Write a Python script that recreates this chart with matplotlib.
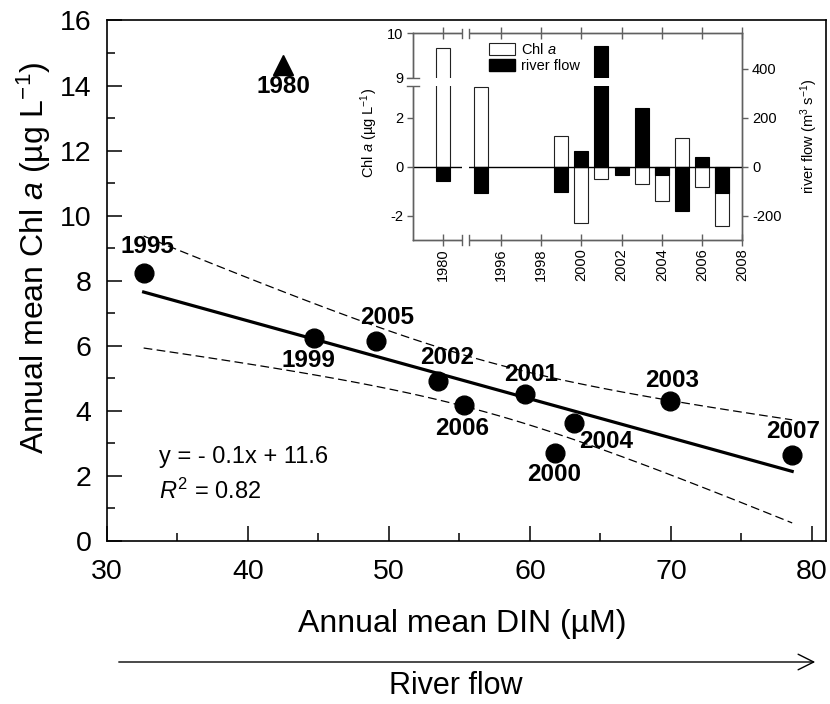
import numpy as np
import matplotlib
matplotlib.use('Agg')
import matplotlib.pyplot as plt
import matplotlib.transforms as mtransforms
from matplotlib.patches import Rectangle, Patch, FancyArrowPatch
from matplotlib.lines import Line2D

plt.rcParams['font.family'] = ['Liberation Sans', 'DejaVu Sans']
plt.rcParams['mathtext.fontset'] = 'custom'
plt.rcParams['mathtext.rm'] = 'Liberation Sans'
plt.rcParams['mathtext.it'] = 'Liberation Sans:italic'
plt.rcParams['mathtext.bf'] = 'Liberation Sans:bold'

# ---------------- data: main scatter ----------------
years = ['1995', '1999', '2000', '2001', '2002', '2003', '2004', '2005', '2006', '2007']
din = [32.6, 44.65, 61.75, 59.67, 53.5, 69.9, 63.16, 49.1, 55.3, 78.6]
chl = [8.23, 6.23, 2.71, 4.50, 4.91, 4.30, 3.61, 6.14, 4.18, 2.62]
year_1980 = '1980'
din_1980 = 42.5
chl_1980 = 14.64

# ---------------- data: inset bars (anomalies) ----------------
inset_years = [1980, 1995, 1999, 2000, 2001, 2002, 2003, 2004, 2005, 2006, 2007]
chl_anom = [9.66, 3.28, 1.24, -2.30, -0.50, -0.10, -0.69, -1.41, 1.16, -0.83, -2.41]
flow_anom = [-60, -108, -105, 64, 495, -34, 240, -32, -181, 41, -107]
inset_xticks = [1980, 1996, 1998, 2000, 2002, 2004, 2006, 2008]
inset_yticks = [-2, 0, 2, 9, 10]
flow_ticks = [-200, 0, 200, 400]

# label offsets (points) for year annotations
label_offsets = {'1995': (3, 19), '1999': (-4, -16), '2000': (0, -16), '2001': (4, 14),
                 '2002': (6, 17), '2003': (2, 15), '2004': (23, -13), '2005': (8, 17),
                 '2006': (-1, -17), '2007': (1, 17), '1980': (0, -16)}
band_t = 3.16  # multiplier of the confidence band

fig = plt.figure(figsize=(8.3, 7.04), dpi=100)
ax = fig.add_axes([0.1289, 0.232, 0.8663, 0.7389])

x = np.array(din)
y = np.array(chl)
slope, intercept = np.polyfit(x, y, 1)
xs = np.linspace(x.min(), x.max(), 100)
fit = slope * xs + intercept
resid = y - (slope * x + intercept)
s = np.sqrt(np.sum(resid ** 2) / (len(x) - 2))
sxx = np.sum((x - x.mean()) ** 2)
half = band_t * s * np.sqrt(1.0 / len(x) + (xs - x.mean()) ** 2 / sxx)
r2 = 1 - np.sum(resid ** 2) / np.sum((y - y.mean()) ** 2)

ax.plot(xs, fit, color='black', lw=2.3, zorder=2)
ax.plot(xs, fit + half, color='black', lw=0.9, ls=(0, (7, 3.5)), zorder=2)
ax.plot(xs, fit - half, color='black', lw=0.9, ls=(0, (7, 3.5)), zorder=2)
ax.plot(x, y, 'o', color='black', ms=13.5, zorder=3)
ax.plot([din_1980], [chl_1980], '^', color='black', ms=15, zorder=3)

for yr, xv, yv in zip(years + [year_1980], din + [din_1980], chl + [chl_1980]):
    ax.annotate(yr, (xv, yv), xytext=label_offsets[yr], textcoords='offset points',
                ha='center', va='center', fontsize=17.5, fontweight='bold', zorder=4)

ax.text(0.072, 0.161, 'y = - %.1fx + %.1f' % (abs(slope), intercept), transform=ax.transAxes,
        fontsize=17, ha='left', va='center')
ax.text(0.072, 0.095, r'$R^{\mathrm{2}}$ = %.2f' % r2, transform=ax.transAxes,
        fontsize=17, ha='left', va='center')

ax.set_xlim(30, 81)
ax.set_ylim(0, 16)
ax.set_xticks(np.arange(30, 81, 10))
ax.set_xticks(np.arange(35, 80, 10), minor=True)
ax.set_yticks(np.arange(0, 17, 2))
ax.set_yticks(np.arange(1, 16, 2), minor=True)
ax.tick_params(which='major', direction='in', length=11, width=1.1, labelsize=20.5)
ax.tick_params(which='minor', direction='in', length=5.5, width=1.1)
ax.tick_params(axis='y', pad=11)
ax.tick_params(axis='x', pad=13)
for sp in ax.spines.values():
    sp.set_linewidth(1.2)
ax.set_ylabel(r'Annual mean Chl $a$ (µg L$^{-1}$)', fontsize=23)
ax.yaxis.set_label_coords(-0.075, 0.543)
ax.set_xlabel('Annual mean DIN (µM)', fontsize=23)
ax.xaxis.label.set_va('baseline')
ax.xaxis.set_label_coords(0.494, -0.1747)

arrow = FancyArrowPatch((116 / 830, 1 - 662 / 704), (818 / 830, 1 - 662 / 704),
                        transform=fig.transFigure, arrowstyle='->', mutation_scale=28,
                        lw=1.0, color='black')
fig.add_artist(arrow)
fig.text(456 / 830, 1 - 686 / 704, 'River flow', fontsize=22, ha='center', va='center')

# ---------------- inset ----------------
yb_lo, yb_hi = 3.31, 9.0
y_dat = [-100, yb_lo, yb_hi, 100]
y_dsp = [-100, yb_lo, 3.65, 3.65 + 91 * 1.81]
xb_lo, xb_hi = 1980.91, 1994.43
x_dat = [1900, xb_lo, xb_hi, 2100]
x_dsp = [1900, xb_lo, xb_lo + 0.38, xb_lo + 0.38 + (2100 - xb_hi)]


def yf(v):
    return np.interp(v, y_dat, y_dsp)


def yi(v):
    return np.interp(v, y_dsp, y_dat)


def xf(v):
    return np.interp(v, x_dat, x_dsp)


def xi(v):
    return np.interp(v, x_dsp, x_dat)


spc = '#606060'
axi = fig.add_axes([413.3 / 830, (704 - 240) / 704, 329 / 830, 206.7 / 704])
axi.set_xscale('function', functions=(xf, xi))
axi.set_yscale('function', functions=(yf, yi))
axi.bar(inset_years, chl_anom, width=0.7, color='white', edgecolor='#222222', lw=0.8)
axi.set_xlim(1978.51, 2008)
axi.set_ylim(-3, 10)
axi.set_xticks(inset_xticks)
axi.set_xticklabels([str(t) for t in inset_xticks], rotation=90, fontsize=10.5)
axi.set_yticks(inset_yticks)
axi.set_yticklabels([str(t) for t in inset_yticks], fontsize=10.5)
axi.xaxis.set_minor_locator(matplotlib.ticker.NullLocator())
axi.yaxis.set_minor_locator(matplotlib.ticker.NullLocator())
axi.tick_params(axis='y', direction='out', length=4, width=1, color=spc, pad=3)
axi.tick_params(axis='x', direction='inout', length=8, width=1, color=spc, pad=2,
                top=True)
for sp in axi.spines.values():
    sp.set_color(spc)
    sp.set_linewidth(1)
axi.set_ylabel(r'Chl $a$ (µg L$^{-1}$)', fontsize=10.5)
axi.yaxis.set_label_coords(-0.10, 0.52)

ax2 = axi.twinx()
ax2.bar(inset_years, flow_anom, width=0.7, color='black', edgecolor='black', lw=0.8)
ax2.axhline(0, color='black', lw=1.0)
ax2.set_ylim(-300, 546)
ax2.set_yticks(flow_ticks)
ax2.set_yticklabels([str(t) for t in flow_ticks], fontsize=10.5)
ax2.tick_params(axis='y', direction='out', length=4, width=1, color=spc, pad=3)
for sp in ax2.spines.values():
    sp.set_color(spc)
    sp.set_linewidth(1)
ax2.set_ylabel(r'river flow (m$^{3}$ s$^{-1}$)', fontsize=10.5)
ax2.yaxis.set_label_coords(1.17, 0.5)

# axis breaks
tr_y = mtransforms.blended_transform_factory(axi.transAxes, axi.transData)
tr_x = mtransforms.blended_transform_factory(axi.transData, axi.transAxes)
ax2.add_patch(Rectangle((-0.02, yb_lo), 1.016, yb_hi - yb_lo, transform=tr_y,
                        facecolor='white', edgecolor='none', zorder=10, clip_on=False))
ax2.add_patch(Rectangle((xb_lo, -0.03), xb_hi - xb_lo, 1.06, transform=tr_x,
                        facecolor='white', edgecolor='none', zorder=10, clip_on=False))
for yv in (yb_lo, yb_hi):
    ax2.add_line(Line2D([-0.018, 0.018], [yv, yv], transform=tr_y, color=spc,
                        lw=1, zorder=11, clip_on=False))
for xv in (xb_lo, xb_hi):
    for yy in (0, 1):
        ax2.add_line(Line2D([xv, xv], [yy - 0.022, yy + 0.022], transform=tr_x,
                            color=spc, lw=1, zorder=11, clip_on=False))

handles = [Patch(facecolor='white', edgecolor='#222222', lw=0.8, label=r'Chl $a$'),
           Patch(facecolor='black', edgecolor='black', label='river flow')]
fig.legend(handles=handles, loc='upper left', bbox_to_anchor=(489 / 830, 1 - 42 / 704),
           frameon=False, fontsize=10.5, handlelength=1.8, handleheight=0.85,
           handletextpad=0.4, labelspacing=0.12, borderpad=0, borderaxespad=0)

fig.savefig('out.png', dpi=100)
